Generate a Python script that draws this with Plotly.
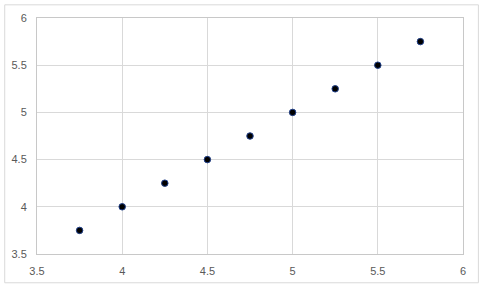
import plotly.graph_objects as go

x_vals = [3.75, 4.0, 4.25, 4.5, 4.75, 5.0, 5.25, 5.5, 5.75]
y_vals = [3.75, 4.0, 4.25, 4.5, 4.75, 5.0, 5.25, 5.5, 5.75]
tick_vals = [3.5, 4, 4.5, 5, 5.5, 6]
tick_text = ["3.5", "4", "4.5", "5", "5.5", "6"]

W, H = 481, 289
L, R, T, B = 34, 18, 15, 32
pw, ph = W - L - R, H - T - B

fig = go.Figure(go.Scatter(
    x=x_vals, y=y_vals, mode="markers",
    marker=dict(size=6.5, color="#000000", line=dict(color="#1f3f8a", width=1)),
))

axis_common = dict(
    tickvals=tick_vals, ticktext=tick_text,
    showgrid=True, gridcolor="#d9d9d9", gridwidth=1,
    showline=True, linecolor="#c8c8c8", linewidth=1, mirror=True,
    zeroline=False, ticks="",
    tickfont=dict(family="Liberation Sans", size=11, color="#595959"),
)

fig.update_layout(
    width=W, height=H,
    margin=dict(l=L, r=R, t=T, b=B),
    paper_bgcolor="white", plot_bgcolor="white",
    showlegend=False,
    xaxis=dict(range=[3.5, 6], ticklabelstandoff=7, **axis_common),
    yaxis=dict(range=[3.5, 6], ticklabelstandoff=7, **axis_common),
    shapes=[dict(
        type="rect", xref="paper", yref="paper",
        x0=(1.5 - L) / pw, x1=(478.5 - L) / pw,
        y0=-(286.5 - (T + ph)) / ph, y1=((T + ph) - 1.5) / ph,
        line=dict(color="#d9d9d9", width=1), fillcolor="rgba(0,0,0,0)",
        layer="below",
    )],
)

fig.write_html("out.html")
